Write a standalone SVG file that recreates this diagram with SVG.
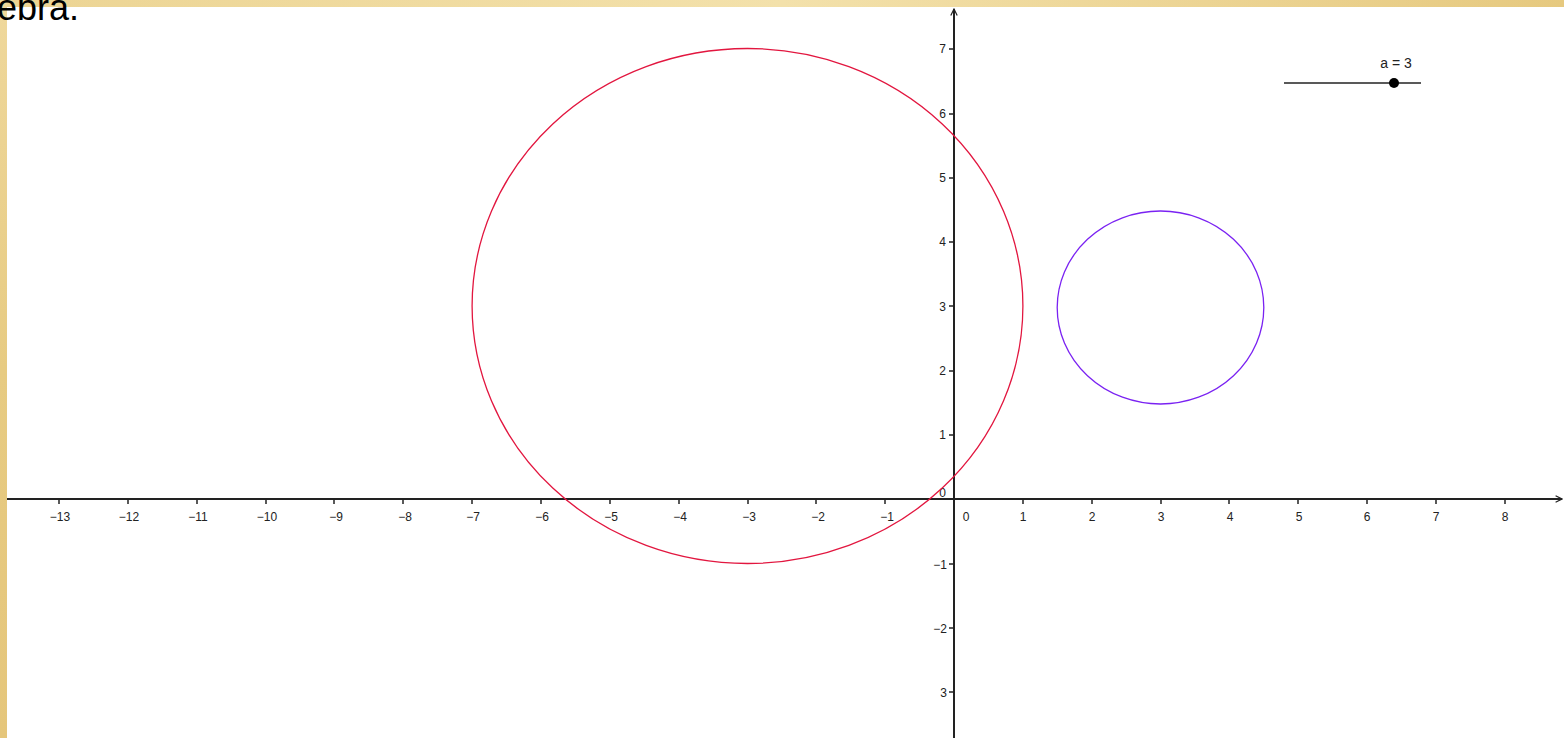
<svg xmlns="http://www.w3.org/2000/svg" width="1564" height="738" viewBox="0 0 1564 738">
<defs>
<linearGradient id="gold" x1="0" y1="0" x2="1" y2="0">
<stop offset="0" stop-color="#ecd493"/>
<stop offset="0.5" stop-color="#f3e1ab"/>
<stop offset="1" stop-color="#e6c97f"/>
</linearGradient>
<linearGradient id="goldv" x1="0" y1="0" x2="0" y2="1">
<stop offset="0" stop-color="#efd89c"/>
<stop offset="0.5" stop-color="#e7cb82"/>
<stop offset="1" stop-color="#e5c67b"/>
</linearGradient>
<marker id="arr" viewBox="0 0 10 10" refX="9" refY="5" markerWidth="8" markerHeight="8" orient="auto" markerUnits="userSpaceOnUse">
<path d="M1,1 L9,5 L1,9" fill="none" stroke="#222" stroke-width="1.5"/>
</marker>
<style>
.ax{stroke:#222;stroke-width:2;fill:none}
.tk{stroke:#222;stroke-width:1.5}
.lb{font-family:"Liberation Sans",Arial,sans-serif;font-size:12px;fill:#222}
.xl{text-anchor:middle}
.yl{text-anchor:end}
</style>
</defs>
<rect width="1564" height="738" fill="#fff"/>
<rect x="0" y="0" width="1564" height="7" fill="url(#gold)"/>
<rect x="0" y="0" width="7" height="738" fill="url(#goldv)"/>
<text x="-3" y="20" font-family="Liberation Sans,Arial,sans-serif" font-size="36" fill="#000">ebra.</text>

<g id="axes">
<line class="ax" x1="7" y1="499" x2="1562" y2="499" marker-end="url(#arr)"/>
<line class="ax" x1="954" y1="738" x2="954" y2="9" marker-end="url(#arr)"/>
<g class="tk">
<line x1="59" y1="499" x2="59" y2="504"/><line x1="128" y1="499" x2="128" y2="504"/><line x1="197" y1="499" x2="197" y2="504"/><line x1="266" y1="499" x2="266" y2="504"/><line x1="334" y1="499" x2="334" y2="504"/><line x1="403" y1="499" x2="403" y2="504"/><line x1="472" y1="499" x2="472" y2="504"/><line x1="541" y1="499" x2="541" y2="504"/><line x1="610" y1="499" x2="610" y2="504"/><line x1="679" y1="499" x2="679" y2="504"/><line x1="748" y1="499" x2="748" y2="504"/><line x1="816" y1="499" x2="816" y2="504"/><line x1="885" y1="499" x2="885" y2="504"/>
<line x1="1023" y1="499" x2="1023" y2="504"/><line x1="1092" y1="499" x2="1092" y2="504"/><line x1="1161" y1="499" x2="1161" y2="504"/><line x1="1229" y1="499" x2="1229" y2="504"/><line x1="1298" y1="499" x2="1298" y2="504"/><line x1="1367" y1="499" x2="1367" y2="504"/><line x1="1436" y1="499" x2="1436" y2="504"/><line x1="1505" y1="499" x2="1505" y2="504"/>
<line x1="949" y1="49" x2="954" y2="49"/><line x1="949" y1="114" x2="954" y2="114"/><line x1="949" y1="178" x2="954" y2="178"/><line x1="949" y1="242" x2="954" y2="242"/><line x1="949" y1="306" x2="954" y2="306"/><line x1="949" y1="371" x2="954" y2="371"/><line x1="949" y1="435" x2="954" y2="435"/><line x1="949" y1="564" x2="954" y2="564"/><line x1="949" y1="628" x2="954" y2="628"/><line x1="949" y1="692" x2="954" y2="692"/>
</g>
<g class="lb xl">
<text x="60" y="521">−13</text><text x="129" y="521">−12</text><text x="198" y="521">−11</text><text x="267" y="521">−10</text><text x="336" y="521">−9</text><text x="405" y="521">−8</text><text x="473" y="521">−7</text><text x="542" y="521">−6</text><text x="611" y="521">−5</text><text x="680" y="521">−4</text><text x="749" y="521">−3</text><text x="818" y="521">−2</text><text x="887" y="521">−1</text>
<text x="966" y="521">0</text><text x="1023" y="521">1</text><text x="1092" y="521">2</text><text x="1161" y="521">3</text><text x="1230" y="521">4</text><text x="1299" y="521">5</text><text x="1367" y="521">6</text><text x="1436" y="521">7</text><text x="1505" y="521">8</text>
</g>
<g class="lb yl">
<text x="946" y="53">7</text><text x="946" y="118">6</text><text x="946" y="182">5</text><text x="946" y="246">4</text><text x="946" y="311">3</text><text x="946" y="375">2</text><text x="946" y="439">1</text><text x="946" y="497">0</text><text x="947" y="569">−1</text><text x="947" y="633">−2</text><text x="947" y="697">3</text>
</g>
</g>

<g id="circle-red">
<ellipse cx="747.5" cy="306" rx="275.4" ry="257.5" fill="none" stroke="#e2163f" stroke-width="1.3"/>
</g>
<g id="circle-blue">
<ellipse cx="1160.5" cy="307.5" rx="103.3" ry="96.5" fill="none" stroke="#7a22f2" stroke-width="1.3"/>
</g>
<g id="slider">
<line x1="1284" y1="83" x2="1421" y2="83" stroke="#222" stroke-width="1.5"/>
<circle cx="1394" cy="83" r="5" fill="#000"/>
<text x="1396" y="68" font-family="Liberation Sans,Arial,sans-serif" fill="#222" text-anchor="middle" font-size="14">a = 3</text>
</g>
</svg>
